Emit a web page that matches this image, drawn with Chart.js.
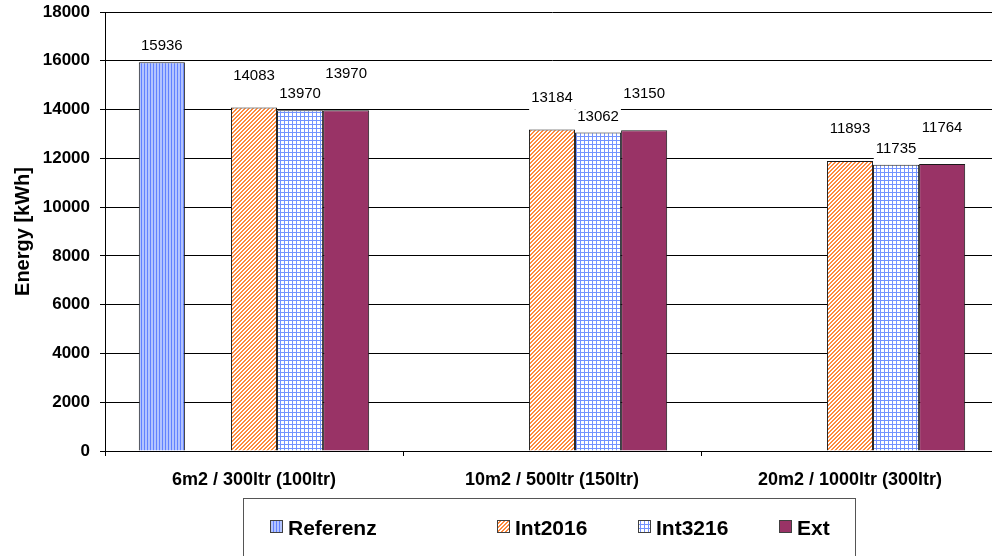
<!DOCTYPE html>
<html>
<head>
<meta charset="utf-8">
<script src="https://cdn.jsdelivr.net/npm/chart.js@4/dist/chart.umd.min.js"></script>
<style>
  html, body { margin: 0; padding: 0; background: #fff; overflow: hidden; }
  #wrap { width: 1000px; height: 556px; }
</style>
</head>
<body>
<div id="wrap"><canvas id="energyChart" width="1000" height="556"></canvas></div>
<script>
// chart data
const categories = ["6m2 / 300ltr (100ltr)", "10m2 / 500ltr (150ltr)", "20m2 / 1000ltr (300ltr)"];
const seriesNames = ["Referenz", "Int2016", "Int3216", "Ext"];
const referenz = [15936, null, null];
const int2016 = [14083, 13184, 11893];
const int3216 = [13970, 13062, 11735];
const ext = [13970, 13150, 11764];
const yMin = 0;
const yMax = 18000;
const yStep = 2000;

const FONT = "Arial, 'Liberation Sans', sans-serif";

// little tiles for the Excel style fill patterns
function makePattern(size, paint) {
    const tile = document.createElement("canvas");
    tile.width = size;
    tile.height = size;
    const t = tile.getContext("2d");
    paint(t, size);
    return t.createPattern(tile, "repeat");
}

const vStripes = makePattern(3, (t, n) => {
    t.fillStyle = "#b3c4ff";
    t.fillRect(0, 0, n, n);
    t.fillStyle = "#6181ff";
    t.fillRect(0, 0, 1, n);
});

const diagStripes = makePattern(4, (t, n) => {
    t.fillStyle = "#ffffff";
    t.fillRect(0, 0, n, n);
    t.fillStyle = "#ff8a3d";
    for (let x = 0; x < n; x++) {
        for (let y = 0; y < n; y++) {
            if ((x + y) % 4 < 2) t.fillRect(x, y, 1, 1);
        }
    }
});

const smallGrid = makePattern(4, (t, n) => {
    t.fillStyle = "#ffffff";
    t.fillRect(0, 0, n, n);
    t.fillStyle = "#7393ff";
    t.fillRect(0, 0, n, 1);
    t.fillRect(0, 0, 1, n);
});

const plum = "#993366";

// value labels above the bars, with a white box behind them
const barLabels = {
    id: "barLabels",
    afterDatasetsDraw(chart, args, opts) {
        const ctx = chart.ctx;
        ctx.save();
        ctx.font = "15px " + FONT;
        const items = [];
        chart.data.datasets.forEach((ds, i) => {
            if (!ds.label) return;
            const meta = chart.getDatasetMeta(i);
            meta.data.forEach((bar, j) => {
                const v = ds.data[j];
                if (v == null) return;
                items.push({ text: String(v), x: bar.x, y: bar.y - (ds.labelLift || 16) });
            });
        });
        items.forEach((it) => {
            const w = ctx.measureText(it.text).width;
            ctx.fillStyle = "#fff";
            ctx.fillRect(it.x - w / 2 - 2, it.y - 13, w + 4, 26);
        });
        ctx.fillStyle = "#000";
        ctx.textAlign = "center";
        ctx.textBaseline = "middle";
        items.forEach((it) => ctx.fillText(it.text, it.x, it.y));
        ctx.restore();
    }
};

// boxed legend under the chart like the Excel one
const boxLegend = {
    id: "boxLegend",
    afterDraw(chart, args, opts) {
        const ctx = chart.ctx;
        ctx.save();
        ctx.strokeStyle = "#555";
        ctx.lineWidth = 1;
        ctx.strokeRect(243.5, 498.5, 612, 120);
        ctx.font = "bold 21px " + FONT;
        ctx.textBaseline = "middle";
        let k = 0;
        chart.data.datasets.forEach((ds) => {
            if (!ds.label) return;
            const x = opts.xs[k++];
            ctx.fillStyle = ds.backgroundColor;
            ctx.fillRect(x, 520, 13, 13);
            ctx.strokeStyle = "#404040";
            ctx.strokeRect(x + 0.5, 520.5, 12, 12);
            ctx.fillStyle = "#000";
            ctx.fillText(ds.label, x + 18, 529);
        });
        ctx.restore();
    }
};

function makeSet(label, data, fill, lift) {
    return {
        label: label,
        data: data,
        backgroundColor: fill,
        borderColor: "#1a1a1a",
        borderWidth: 1,
        labelLift: lift
    };
}

const ctx = document.getElementById("energyChart").getContext("2d");

new Chart(ctx, {
    type: "bar",
    data: {
        labels: categories,
        datasets: [
            makeSet(seriesNames[0], referenz, vStripes, 16),
            // empty slot, Excel left a gap after Referenz
            { label: "", data: [null, null, null], backgroundColor: "rgba(0,0,0,0)" },
            makeSet(seriesNames[1], int2016, diagStripes, 32),
            makeSet(seriesNames[2], int3216, smallGrid, 16),
            makeSet(seriesNames[3], ext, plum, 36)
        ]
    },
    options: {
        responsive: false,
        animation: false,
        layout: { padding: { top: 12, right: 1, left: 0, bottom: 0 } },
        datasets: {
            bar: { categoryPercentage: 0.773, barPercentage: 1.0 }
        },
        scales: {
            x: {
                grid: { drawOnChartArea: false, offset: true, tickLength: 5, color: "#000" },
                border: { color: "#000" },
                ticks: {
                    color: "#000",
                    font: { family: FONT, size: 18, weight: "bold" },
                    padding: 13,
                    maxRotation: 0,
                    autoSkip: false
                },
                afterFit: (s) => { s.height = 105; }
            },
            y: {
                min: yMin,
                max: yMax,
                grid: { color: "#000", tickLength: 5 },
                border: { color: "#000" },
                ticks: {
                    stepSize: yStep,
                    color: "#000",
                    font: { family: FONT, size: 17, weight: "bold" },
                    padding: 10,
                    callback: (v) => String(v)
                },
                title: {
                    display: true,
                    text: "Energy [kWh]",
                    color: "#000",
                    font: { family: FONT, size: 20, weight: "bold" },
                    padding: { top: 11, bottom: 0 }
                },
                afterFit: (s) => {
                    s.width = 105;
                    s.paddingTop = 0;
                    s.paddingBottom = 0;
                }
            }
        },
        plugins: {
            legend: { display: false },
            tooltip: { enabled: false },
            boxLegend: { xs: [270, 497, 638, 779] }
        }
    },
    plugins: [barLabels, boxLegend]
});
</script>
</body>
</html>
